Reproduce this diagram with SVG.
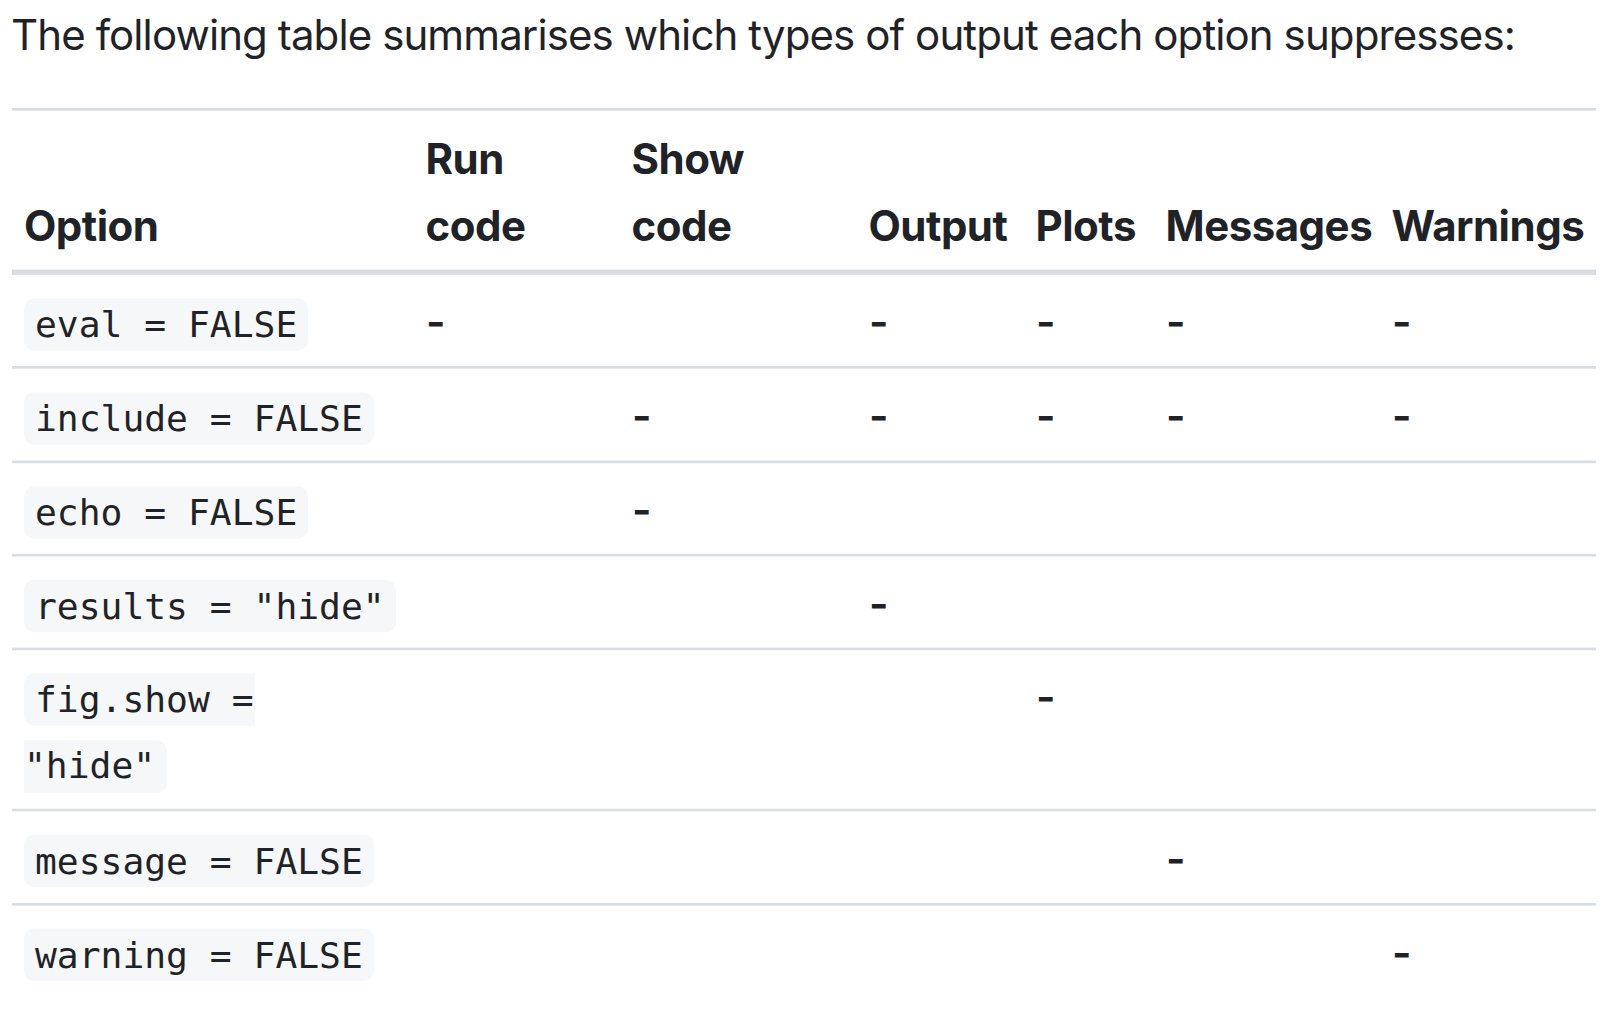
<svg xmlns="http://www.w3.org/2000/svg" width="1612" height="1036" viewBox="0 0 1612 1036">
<style>
.t{font-family:Inter,"Liberation Sans",sans-serif;font-size:42px;letter-spacing:-0.9px;fill:#1f2328}
.h{font-family:Inter,"Liberation Sans",sans-serif;font-size:42px;font-weight:700;letter-spacing:-0.5px;fill:#1f2328}
.c{font-family:"DejaVu Sans Mono","Liberation Mono",monospace;font-size:36.3px;fill:#1f2328}
.d{font-family:Inter,"Liberation Sans",sans-serif;font-size:42px;font-weight:600;fill:#1f2328}
.rule{fill:#d8dde3}
.cb{fill:#f6f7f8}
</style>
<rect width="1612" height="1036" fill="#ffffff"/>
<g id="title"><text class="t" x="11" y="50">The following table summarises which types of output each option suppresses:</text></g>
<g id="rules">
<rect class="rule" x="12" y="108" width="1584" height="2.67"/>
<rect class="rule" x="12" y="269.6" width="1584" height="5.33"/>
<rect class="rule" x="12" y="366" width="1584" height="2.67"/>
<rect class="rule" x="12" y="460.5" width="1584" height="2.67"/>
<rect class="rule" x="12" y="553.8" width="1584" height="2.67"/>
<rect class="rule" x="12" y="647.6" width="1584" height="2.67"/>
<rect class="rule" x="12" y="808.7" width="1584" height="2.67"/>
<rect class="rule" x="12" y="903" width="1584" height="2.67"/>
</g>
<g id="header">
<text class="h" x="24" y="240.5">Option</text>
<text class="h" x="425.5" y="174">Run</text>
<text class="h" x="425.5" y="240.5">code</text>
<text class="h" x="631.5" y="174">Show</text>
<text class="h" x="631.5" y="240.5">code</text>
<text class="h" x="868.5" y="240.5">Output</text>
<text class="h" x="1035.5" y="240.5">Plots</text>
<text class="h" x="1165.5" y="240.5">Messages</text>
<text class="h" x="1391.5" y="240.5">Warnings</text>
</g>
<g id="row-eval">
<rect class="cb" x="24" y="298.3" width="284" height="52.4" rx="10"/>
<text class="c" x="35" y="337">eval = FALSE</text>
<text class="d" x="426" y="337">-</text>
<text class="d" x="869" y="337">-</text>
<text class="d" x="1036" y="337">-</text>
<text class="d" x="1166" y="337">-</text>
<text class="d" x="1392" y="337">-</text>
</g>
<g id="row-include">
<rect class="cb" x="24" y="392.3" width="350" height="52.4" rx="10"/>
<text class="c" x="35" y="431">include = FALSE</text>
<text class="d" x="632" y="431">-</text>
<text class="d" x="869" y="431">-</text>
<text class="d" x="1036" y="431">-</text>
<text class="d" x="1166" y="431">-</text>
<text class="d" x="1392" y="431">-</text>
</g>
<g id="row-echo">
<rect class="cb" x="24" y="486.3" width="284" height="52.4" rx="10"/>
<text class="c" x="35" y="525">echo = FALSE</text>
<text class="d" x="632" y="525">-</text>
</g>
<g id="row-results">
<rect class="cb" x="24" y="579.8" width="372" height="52.4" rx="10"/>
<text class="c" x="35" y="618.5">results = "hide"</text>
<text class="d" x="869" y="618.5">-</text>
</g>
<g id="row-figshow">
<path class="cb" d="M34,673.3 H255 V725.7 H34 A10,10 0 0 1 24,715.7 V683.3 A10,10 0 0 1 34,673.3 Z"/>
<text class="c" x="35" y="712">fig.show =</text>
<path class="cb" d="M24,740.3 H157 A10,10 0 0 1 167,750.3 V782.7 A10,10 0 0 1 157,792.7 H24 Z"/>
<text class="c" x="24" y="778">"hide"</text>
<text class="d" x="1036" y="712">-</text>
</g>
<g id="row-message">
<rect class="cb" x="24" y="834.6" width="350" height="52.4" rx="10"/>
<text class="c" x="35" y="873.5">message = FALSE</text>
<text class="d" x="1166" y="873.5">-</text>
</g>
<g id="row-warning">
<rect class="cb" x="24" y="928.6" width="350" height="52.4" rx="10"/>
<text class="c" x="35" y="967.5">warning = FALSE</text>
<text class="d" x="1392" y="967.5">-</text>
</g>
</svg>
